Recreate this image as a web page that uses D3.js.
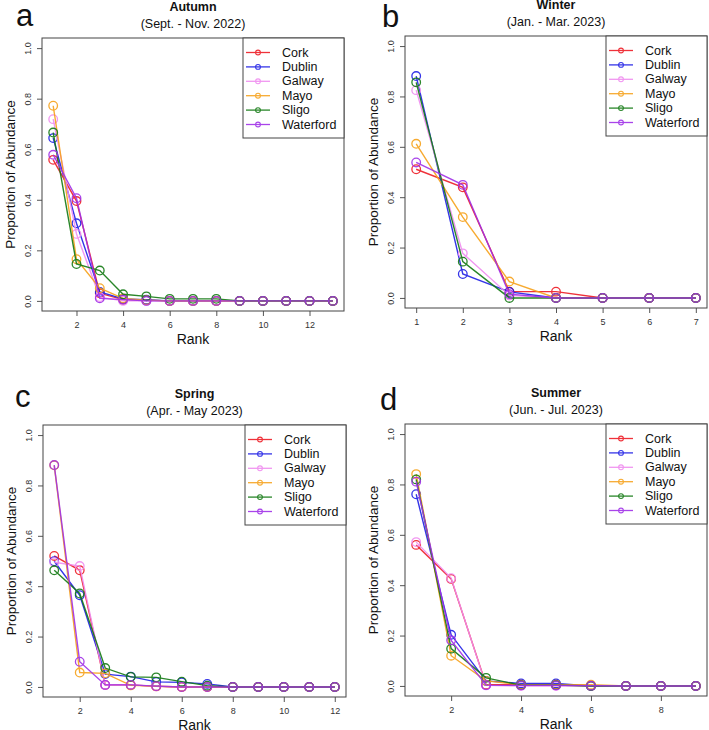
<!DOCTYPE html>
<html>
<head>
<meta charset="utf-8">
<script src="https://cdn.jsdelivr.net/npm/d3@7"></script>
<style>
  html, body { margin: 0; padding: 0; background: #ffffff; }
  svg { display: block; font-family: "Liberation Sans", Arial, Helvetica, sans-serif; }
</style>
</head>
<body>
<svg id="chart" width="709" height="730"></svg>
<script>
// ---------------- DATA ----------------
const sites = ["Cork", "Dublin", "Galway", "Mayo", "Sligo", "Waterford"];
const siteColors = ["#ee1c25", "#1f1fe6", "#f08cf0", "#f7a21b", "#137a13", "#a030e8"];
const yTicks = [0.0, 0.2, 0.4, 0.6, 0.8, 1.0];

const panelLetters = ["a", "b", "c", "d"];
const seasonTitles = ["Autumn", "Winter", "Spring", "Summer"];
const seasonPeriods = ["(Sept. - Nov. 2022)", "(Jan. - Mar. 2023)", "(Apr. - May 2023)", "(Jun. - Jul. 2023)"];

const autumnRanks = [1, 2, 3, 4, 5, 6, 7, 8, 9, 10, 11, 12, 13];
const autumnTicks = [2, 4, 6, 8, 10, 12];
const autumnCork      = [0.558, 0.395, 0.030, 0.005, 0.003, 0, 0, 0, 0, 0, 0, 0, 0];
const autumnDublin    = [0.644, 0.307, 0.035, 0.008, 0.005, 0, 0, 0, 0, 0, 0, 0, 0];
const autumnGalway    = [0.719, 0.265, 0.015, 0.000, 0.000, 0, 0, 0, 0, 0, 0, 0, 0];
const autumnMayo      = [0.772, 0.165, 0.050, 0.010, 0.003, 0, 0, 0, 0, 0, 0, 0, 0];
const autumnSligo     = [0.666, 0.146, 0.120, 0.026, 0.018, 0.008, 0.008, 0.008, 0, 0, 0, 0, 0];
const autumnWaterford = [0.578, 0.406, 0.010, 0.005, 0.000, 0, 0, 0, 0, 0, 0, 0, 0];

const winterRanks = [1, 2, 3, 4, 5, 6, 7];
const winterTicks = [1, 2, 3, 4, 5, 6, 7];
const winterCork      = [0.511, 0.439, 0.025, 0.025, 0, 0, 0];
const winterDublin    = [0.881, 0.095, 0.024, 0.000, 0, 0, 0];
const winterGalway    = [0.825, 0.177, 0.010, 0.000, 0, 0, 0];
const winterMayo      = [0.612, 0.321, 0.065, 0.000, 0, 0, 0];
const winterSligo     = [0.856, 0.144, 0.000, 0.000, 0, 0, 0];
const winterWaterford = [0.538, 0.449, 0.015, 0.000, 0, 0, 0];

const springRanks = [1, 2, 3, 4, 5, 6, 7, 8, 9, 10, 11, 12];
const springTicks = [2, 4, 6, 8, 10, 12];
const springCork      = [0.520, 0.463, 0.008, 0.008, 0.002, 0, 0, 0, 0, 0, 0, 0];
const springDublin    = [0.499, 0.364, 0.051, 0.041, 0.020, 0.018, 0.012, 0, 0, 0, 0, 0];
const springGalway    = [0.495, 0.480, 0.008, 0.008, 0.003, 0, 0, 0, 0, 0, 0, 0];
const springMayo      = [0.880, 0.057, 0.054, 0.006, 0.003, 0, 0, 0, 0, 0, 0, 0];
const springSligo     = [0.463, 0.371, 0.075, 0.040, 0.038, 0.021, 0.005, 0, 0, 0, 0, 0];
const springWaterford = [0.881, 0.100, 0.008, 0.008, 0.003, 0, 0, 0, 0, 0, 0, 0];

const summerRanks = [1, 2, 3, 4, 5, 6, 7, 8, 9];
const summerTicks = [2, 4, 6, 8];
const summerCork      = [0.560, 0.425, 0.005, 0.005, 0.005, 0.000, 0, 0, 0];
const summerDublin    = [0.761, 0.203, 0.020, 0.010, 0.010, 0.000, 0, 0, 0];
const summerGalway    = [0.571, 0.428, 0.002, 0.000, 0.000, 0.000, 0, 0, 0];
const summerMayo      = [0.841, 0.120, 0.020, 0.005, 0.005, 0.005, 0, 0, 0];
const summerSligo     = [0.820, 0.148, 0.032, 0.003, 0.003, 0.000, 0, 0, 0];
const summerWaterford = [0.811, 0.181, 0.003, 0.002, 0.002, 0.001, 0, 0, 0];

const seasonRanks = [autumnRanks, winterRanks, springRanks, summerRanks];
const seasonTicks = [autumnTicks, winterTicks, springTicks, summerTicks];
const seasonValues = [
  [autumnCork, autumnDublin, autumnGalway, autumnMayo, autumnSligo, autumnWaterford],
  [winterCork, winterDublin, winterGalway, winterMayo, winterSligo, winterWaterford],
  [springCork, springDublin, springGalway, springMayo, springSligo, springWaterford],
  [summerCork, summerDublin, summerGalway, summerMayo, summerSligo, summerWaterford]
];

// ---------------- LAYOUT ----------------
const layout = [
  { box: { x0: 42,  x1: 344, y0: 38,  y1: 311 }, letter: { x: 16,  y: 26 } },
  { box: { x0: 405, x1: 707, y0: 36,  y1: 308 }, letter: { x: 382, y: 27 } },
  { box: { x0: 43,  x1: 346, y0: 425, y1: 697 }, letter: { x: 15,  y: 407 } },
  { box: { x0: 405, x1: 707, y0: 424, y1: 696 }, letter: { x: 380, y: 410 } }
];

const svg = d3.select("#chart");
const ink = "#333333";
const boxColor = "#444444";

layout.forEach((L, pi) => {
  const b = L.box;
  const ranks = seasonRanks[pi];
  const n = ranks[ranks.length - 1];
  const pad = 0.04 * (n - 1);
  const x = d3.scaleLinear().domain([1 - pad, n + pad]).range([b.x0, b.x1]);
  const y = d3.scaleLinear().domain([-0.04, 1.04]).range([b.y1, b.y0]);

  const g = svg.append("g");

  // panel letter
  g.append("text").attr("x", L.letter.x).attr("y", L.letter.y)
    .attr("font-size", 31).attr("fill", "#111").text(panelLetters[pi]);

  // titles
  const cx = (b.x0 + b.x1) / 2;
  g.append("text").attr("x", cx).attr("y", b.y0 - 27).attr("text-anchor", "middle")
    .attr("font-size", 12.5).attr("font-weight", "bold").attr("fill", "#111")
    .text(seasonTitles[pi]);
  g.append("text").attr("x", cx).attr("y", b.y0 - 10).attr("text-anchor", "middle")
    .attr("font-size", 12.5).attr("fill", "#111")
    .text(seasonPeriods[pi]);

  // x axis
  const xAxis = d3.axisBottom(x).tickValues(seasonTicks[pi]).tickSize(5).tickPadding(6)
    .tickFormat(d3.format("d"));
  const xg = g.append("g").attr("transform", `translate(0,${b.y1})`).call(xAxis);
  xg.select(".domain").remove();
  xg.selectAll(".tick line").attr("stroke", "#555");
  xg.selectAll(".tick text").attr("font-size", 9).attr("fill", ink)
    .attr("font-family", "'Liberation Sans', Arial, sans-serif");

  // y axis
  const yAxis = d3.axisLeft(y).tickValues(yTicks).tickSize(5).tickFormat(d3.format(".1f"));
  const yg = g.append("g").attr("transform", `translate(${b.x0},0)`).call(yAxis);
  yg.select(".domain").remove();
  yg.selectAll(".tick line").attr("stroke", "#555");
  yg.selectAll(".tick text")
    .attr("font-size", 9).attr("fill", ink)
    .attr("font-family", "'Liberation Sans', Arial, sans-serif")
    .attr("text-anchor", "middle").attr("dy", null)
    .attr("x", null)
    .attr("transform", "translate(-14,0) rotate(-90)")
    .attr("dominant-baseline", "central");

  // axis titles
  g.append("text").attr("x", cx).attr("y", b.y1 + 33).attr("text-anchor", "middle")
    .attr("font-size", 14).attr("fill", "#111").text("Rank");
  g.append("text")
    .attr("transform", `translate(${b.x0 - 27},${(b.y0 + b.y1) / 2}) rotate(-90)`)
    .attr("text-anchor", "middle").attr("font-size", 13.5).attr("fill", "#111")
    .text("Proportion of Abundance");

  // series
  const line = d3.line().x(d => x(d.r)).y(d => y(d.v));
  seasonValues[pi].forEach((vals, si) => {
    const pts = vals.map((v, i) => ({ r: ranks[i], v: v }));
    const sg = g.append("g").attr("opacity", 0.9);
    sg.append("path").datum(pts).attr("d", line)
      .attr("fill", "none").attr("stroke", siteColors[si]).attr("stroke-width", 1.4);
    sg.selectAll("circle").data(pts).join("circle")
      .attr("cx", d => x(d.r)).attr("cy", d => y(d.v)).attr("r", 4.3)
      .attr("fill", "none").attr("stroke", siteColors[si]).attr("stroke-width", 1.3);
  });

  // box
  g.append("rect").attr("x", b.x0).attr("y", b.y0)
    .attr("width", b.x1 - b.x0).attr("height", b.y1 - b.y0)
    .attr("fill", "none").attr("stroke", boxColor).attr("stroke-width", 1);

  // legend
  const lw = 101, lh = 100;
  const lx = b.x1 - lw, ly = b.y0;
  const lg = g.append("g").attr("transform", `translate(${lx},${ly})`);
  lg.append("rect").attr("width", lw).attr("height", lh)
    .attr("fill", "#fff").attr("stroke", boxColor).attr("stroke-width", 1);
  sites.forEach((s, si) => {
    const yy = 14.5 + si * 14.4;
    const eg = lg.append("g").attr("opacity", 0.9);
    eg.append("line").attr("x1", 3).attr("x2", 27).attr("y1", yy).attr("y2", yy)
      .attr("stroke", siteColors[si]).attr("stroke-width", 1.3);
    eg.append("circle").attr("cx", 15).attr("cy", yy).attr("r", 2.4)
      .attr("fill", "none").attr("stroke", siteColors[si]).attr("stroke-width", 1.1);
    lg.append("text").attr("x", 39).attr("y", yy).attr("dominant-baseline", "central")
      .attr("font-size", 12.5).attr("fill", "#111").text(s);
  });
});
</script>
</body>
</html>
